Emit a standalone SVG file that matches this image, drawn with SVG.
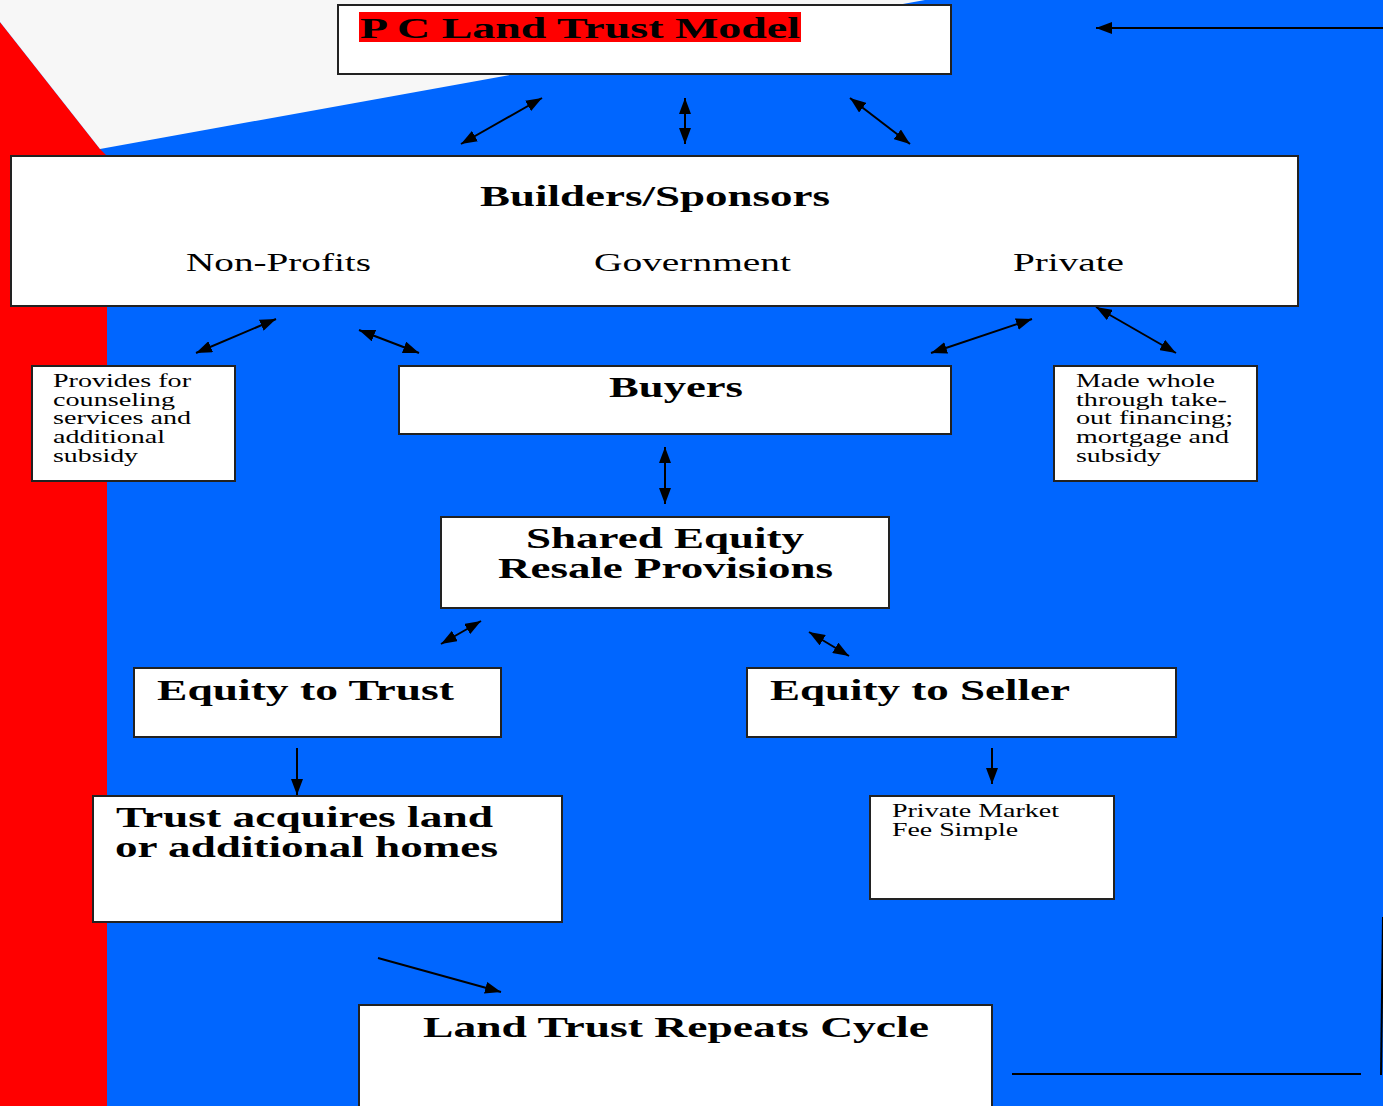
<svg xmlns="http://www.w3.org/2000/svg" width="1383" height="1106" viewBox="0 0 1383 1106">
<style>
.box{fill:#fff;stroke:#222;stroke-width:2}
.b{font-family:"Liberation Serif",serif;font-weight:bold;fill:#000}
.r{font-family:"Liberation Serif",serif;fill:#000}
.c{stroke:#000;stroke-width:2;fill:none}
</style>
<defs>
<marker id="ah" viewBox="0 0 16 12" refX="16" refY="6" markerWidth="8" markerHeight="6" orient="auto-start-reverse" markerUnits="strokeWidth">
<path d="M0,0 L16,6 L0,12 z" fill="#000"/>
</marker>
</defs>
<g id="background">
<rect x="0" y="0" width="1383" height="1106" fill="#0066ff"/>
<polygon points="0,22 100,149 107,156 107,1106 0,1106" fill="#ff0000"/>
<polygon points="0,0 925,0 100,149 0,22" fill="#f7f7f7"/>
</g>
<g id="connectors">
<line class="c" x1="1383" y1="28" x2="1096" y2="28" marker-end="url(#ah)"/>
<line class="c" x1="542" y1="98" x2="461" y2="144" marker-start="url(#ah)" marker-end="url(#ah)"/>
<line class="c" x1="685" y1="98" x2="685" y2="144" marker-start="url(#ah)" marker-end="url(#ah)"/>
<line class="c" x1="850" y1="98" x2="910" y2="144" marker-start="url(#ah)" marker-end="url(#ah)"/>
<line class="c" x1="276" y1="319" x2="196" y2="353" marker-start="url(#ah)" marker-end="url(#ah)"/>
<line class="c" x1="359" y1="330" x2="419" y2="353" marker-start="url(#ah)" marker-end="url(#ah)"/>
<line class="c" x1="1032" y1="319" x2="931" y2="353" marker-start="url(#ah)" marker-end="url(#ah)"/>
<line class="c" x1="1096" y1="307" x2="1176" y2="353" marker-start="url(#ah)" marker-end="url(#ah)"/>
<line class="c" x1="665" y1="447" x2="665" y2="504" marker-start="url(#ah)" marker-end="url(#ah)"/>
<line class="c" x1="481" y1="621" x2="441" y2="644" marker-start="url(#ah)" marker-end="url(#ah)"/>
<line class="c" x1="809" y1="632" x2="849" y2="656" marker-start="url(#ah)" marker-end="url(#ah)"/>
<line class="c" x1="297" y1="748" x2="297" y2="795" marker-end="url(#ah)"/>
<line class="c" x1="992" y1="748" x2="992" y2="784" marker-end="url(#ah)"/>
<line class="c" x1="378" y1="958" x2="501" y2="992" marker-end="url(#ah)"/>
<line class="c" x1="1012" y1="1074" x2="1361" y2="1074"/>
<line class="c" x1="1383" y1="917" x2="1381" y2="1075"/>
</g>
<g id="title">
<rect class="box" x="338" y="5" width="613" height="69"/>
<rect x="359" y="12" width="442" height="30" fill="#ff0000"/>
<text class="b" x="360" y="38" font-size="30" textLength="440" lengthAdjust="spacingAndGlyphs">P C Land Trust Model</text>
</g>
<g id="builders">
<rect class="box" x="11" y="156" width="1287" height="150"/>
<text class="b" x="480" y="206" font-size="29" textLength="350" lengthAdjust="spacingAndGlyphs">Builders/Sponsors</text>
<text class="r" x="186" y="271" font-size="26" textLength="185" lengthAdjust="spacingAndGlyphs">Non-Profits</text>
<text class="r" x="594" y="271" font-size="26" textLength="197" lengthAdjust="spacingAndGlyphs">Government</text>
<text class="r" x="1013" y="271" font-size="26" textLength="111" lengthAdjust="spacingAndGlyphs">Private</text>
</g>
<g id="provides">
<rect class="box" x="32" y="366" width="203" height="115"/>
<text class="r" font-size="18">
<tspan x="53" y="387" textLength="138" lengthAdjust="spacingAndGlyphs">Provides for</tspan>
<tspan x="53" y="406" textLength="122" lengthAdjust="spacingAndGlyphs">counseling</tspan>
<tspan x="53" y="424" textLength="138" lengthAdjust="spacingAndGlyphs">services and</tspan>
<tspan x="53" y="443" textLength="112" lengthAdjust="spacingAndGlyphs">additional</tspan>
<tspan x="53" y="462" textLength="85" lengthAdjust="spacingAndGlyphs">subsidy</tspan>
</text>
</g>
<g id="buyers">
<rect class="box" x="399" y="366" width="552" height="68"/>
<text class="b" x="609" y="397" font-size="29" textLength="134" lengthAdjust="spacingAndGlyphs">Buyers</text>
</g>
<g id="madewhole">
<rect class="box" x="1054" y="366" width="203" height="115"/>
<text class="r" font-size="18">
<tspan x="1076" y="387" textLength="139" lengthAdjust="spacingAndGlyphs">Made whole</tspan>
<tspan x="1076" y="406" textLength="151" lengthAdjust="spacingAndGlyphs">through take-</tspan>
<tspan x="1076" y="424" textLength="157" lengthAdjust="spacingAndGlyphs">out financing;</tspan>
<tspan x="1076" y="443" textLength="153" lengthAdjust="spacingAndGlyphs">mortgage and</tspan>
<tspan x="1076" y="462" textLength="85" lengthAdjust="spacingAndGlyphs">subsidy</tspan>
</text>
</g>
<g id="shared">
<rect class="box" x="441" y="517" width="448" height="91"/>
<text class="b" x="526" y="548" font-size="29" textLength="278" lengthAdjust="spacingAndGlyphs">Shared Equity</text>
<text class="b" x="498" y="578" font-size="29" textLength="335" lengthAdjust="spacingAndGlyphs">Resale Provisions</text>
</g>
<g id="equitytrust">
<rect class="box" x="134" y="668" width="367" height="69"/>
<text class="b" x="157" y="700" font-size="29" textLength="297" lengthAdjust="spacingAndGlyphs">Equity to Trust</text>
</g>
<g id="equityseller">
<rect class="box" x="747" y="668" width="429" height="69"/>
<text class="b" x="770" y="700" font-size="29" textLength="300" lengthAdjust="spacingAndGlyphs">Equity to Seller</text>
</g>
<g id="acquires">
<rect class="box" x="93" y="796" width="469" height="126"/>
<text class="b" x="116" y="827" font-size="29" textLength="377" lengthAdjust="spacingAndGlyphs">Trust acquires land</text>
<text class="b" x="115" y="857" font-size="29" textLength="383" lengthAdjust="spacingAndGlyphs">or additional homes</text>
</g>
<g id="privatemarket">
<rect class="box" x="870" y="796" width="244" height="103"/>
<text class="r" font-size="18">
<tspan x="892" y="817" textLength="167" lengthAdjust="spacingAndGlyphs">Private Market</tspan>
<tspan x="892" y="836" textLength="126" lengthAdjust="spacingAndGlyphs">Fee Simple</tspan>
</text>
</g>
<g id="repeats">
<rect class="box" x="359" y="1005" width="633" height="110"/>
<text class="b" x="423" y="1037" font-size="29" textLength="506" lengthAdjust="spacingAndGlyphs">Land Trust Repeats Cycle</text>
</g>
</svg>
